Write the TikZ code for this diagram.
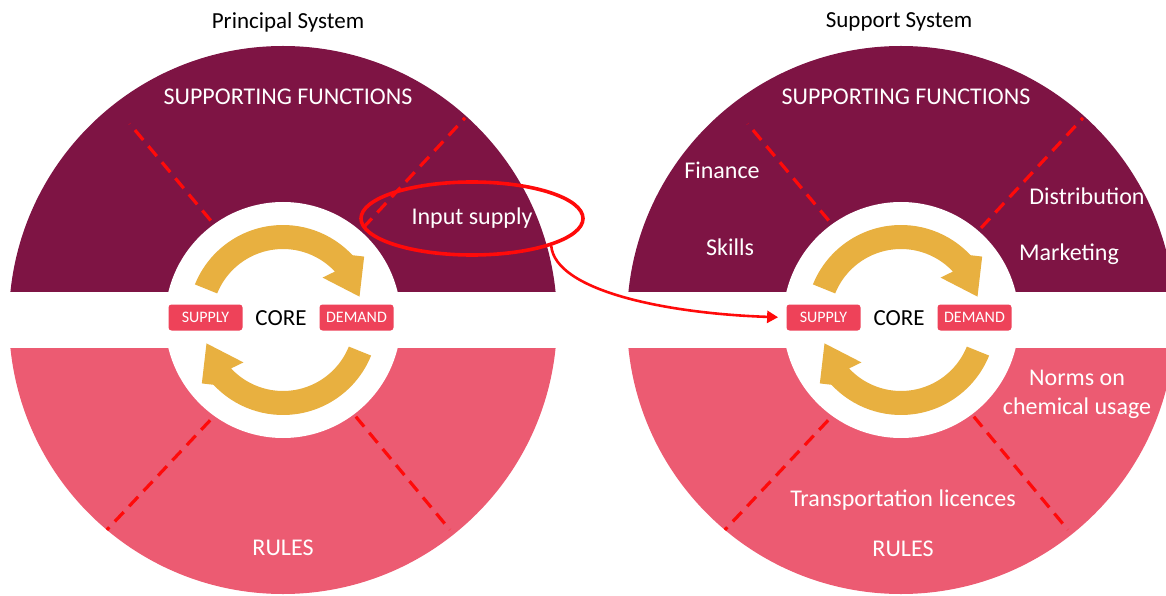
\documentclass[tikz,border=0pt]{standalone}
\usepackage{fontspec}
\setmainfont{Carlito}
\usetikzlibrary{shapes.geometric,arrows.meta,positioning}
\definecolor{sfpurple}{HTML}{7E1444}
\definecolor{rulepink}{HTML}{EC5B72}
\definecolor{boxred}{HTML}{EE4259}
\definecolor{loopgold}{HTML}{E8B040}
\definecolor{linered}{HTML}{FF0A0A}

\begin{document}
\begin{tikzpicture}[x=0.5pt,y=0.5pt,
    txt/.style={text=white,font=\fontsize{12}{14.5}\selectfont,align=center},
    ttl/.style={text=black,font=\fontsize{11.5}{14}\selectfont},
    cbox/.style={fill=boxred,rounded corners=1.5pt,text=white,font=\fontsize{8}{9}\selectfont,
                 minimum width=37pt,minimum height=13pt,inner sep=0pt},
    cut/.style={linered,line width=1.6pt,dash pattern=on 6.5pt off 4pt},
    goldarrow/.style={fill=loopgold}]
  \clip (0,0) rectangle (1166,595);
  % the two systems
  \foreach \cx/\nm in {283/l,901/r}{
    \begin{scope}[shift={(\cx,275)}]
      \begin{scope}
        \clip (-280,28) rectangle (280,280);
        \fill[sfpurple] (0,0) circle[radius=274];
      \end{scope}
      \begin{scope}
        \clip (-280,-28) rectangle (280,-280);
        \fill[rulepink] (0,0) circle[radius=274];
      \end{scope}
      \fill[white] (0,0) circle[radius=118];
      \draw[cut] (126:123) -- (128:249);
      \draw[cut] (49:122) -- (48:272);
      \draw[cut] (-126:124) -- (-130:274);
      \draw[cut] (-53:121) -- (-51.5:268);
      % core loop
      \foreach \a in {0,180}
        \fill[goldarrow,rotate=\a] (158:95) arc[start angle=158,end angle=43,radius=95]
          -- (38:103) -- (17:80) -- (47:58) -- (43:71)
          arc[start angle=43,end angle=158,radius=71] -- cycle;
      \node[cbox] (\nm-sup) at (-77.5,2.5) {SUPPLY};
      \node[cbox] (\nm-dem) at (73.5,2.5) {DEMAND};
      \node[ttl] (\nm-core) at (-2,2) {CORE};
    \end{scope}
  }
  \node[ttl] (ptitle) at (288,573) {Principal System};
  \node[ttl] (stitle) at (899,573) {Support System};
  % principal system
  \node[txt] (l-sf) at (288,498) {SUPPORTING FUNCTIONS};
  \node[txt] (l-rules) at (283,47) {RULES};
  \node[txt,ellipse,draw=linered,line width=1.8pt,minimum width=111pt,minimum height=36.5pt] (inp) at (472,376.5) {Input supply};
  % support system
  \node[txt] (r-sf) at (906,498) {SUPPORTING FUNCTIONS};
  \node[txt] (fin) at (722,425) {Finance};
  \node[txt] (skl) at (730,348) {Skills};
  \node[txt] (dst) at (1087,399) {Distribution};
  \node[txt] (mkt) at (1069,341) {Marketing};
  \node[txt] (nrm) at (1077,201) {Norms on\\chemical usage};
  \node[txt] (trl) at (903,95) {Transportation licences};
  \node[txt] (r-rules) at (903,46) {RULES};
  % link
  \draw[linered,line width=1.3pt,-{Triangle[length=5.5pt,width=6pt]},shorten >=4pt]
    (inp.-19) .. controls +(4,-45) and +(-120,4) .. (r-sup.west);
\end{tikzpicture}
\end{document}
